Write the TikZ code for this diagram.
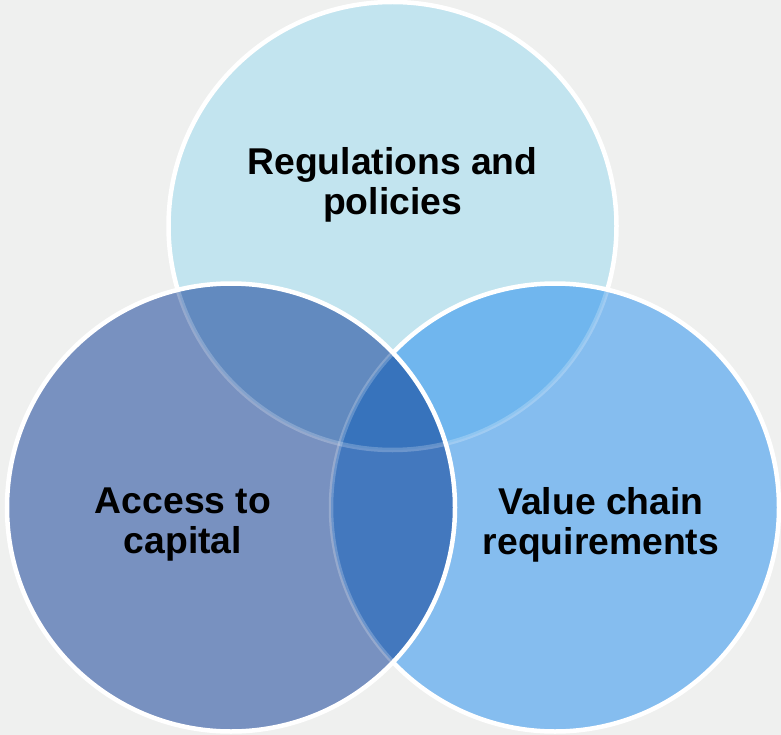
\documentclass[tikz,border=0pt]{standalone}
\usepackage{fontspec}
\setmainfont{Liberation Sans}
\definecolor{bgc}{HTML}{EFF0EF}
\definecolor{ctop}{HTML}{C2E4EF}
\definecolor{cright}{HTML}{85BDEF}
\definecolor{cleft}{HTML}{7891C0}
\definecolor{ctr}{HTML}{70B6EE}
\definecolor{ctl}{HTML}{628ABF}
\definecolor{clr}{HTML}{4378BE}
\definecolor{clrt}{HTML}{3773BC}
\def\pathT{(392.5,-226) circle[radius=224]}
\def\pathL{(231,-507.5) circle[radius=224]}
\def\pathR{(555,-507.5) circle[radius=224]}
\tikzset{
  rim/.style={draw=white, line width=4.5pt},
  faint/.style={draw=white, draw opacity=0.22, line width=4.5pt},
  lbl/.style={align=center, font=\bfseries\fontsize{37.3}{40}\selectfont, text=black, inner sep=0pt}
}
\begin{document}
\begin{tikzpicture}[x=1pt,y=1pt]
\useasboundingbox (0,0) rectangle (781,-735);
\fill[bgc] (0,0) rectangle (781,-735);
% top circle
\fill[ctop] \pathT;
\path[rim] \pathT;
% right circle
\fill[cright] \pathR;
\begin{scope}\clip \pathT; \fill[ctr] \pathR; \end{scope}
\begin{scope}\clip \pathR; \path[faint] \pathT; \end{scope}
\path[rim] \pathR;
% left circle
\fill[cleft] \pathL;
\begin{scope}\clip \pathT; \fill[ctl] \pathL; \end{scope}
\begin{scope}\clip \pathR; \fill[clr] \pathL; \end{scope}
\begin{scope}\clip \pathR; \clip \pathT; \fill[clrt] \pathL; \end{scope}
\begin{scope}\clip \pathL; \path[faint] \pathT; \path[faint] \pathR; \end{scope}
\path[rim] \pathL;
% labels
\node[lbl] (reg) at (392.5,-185) {Regulations and\\policies};
\node[lbl] (acc) at (183,-525) {Access to\\capital};
\node[lbl] (val) at (601,-525) {Value chain\\requirements};
\end{tikzpicture}
\end{document}
